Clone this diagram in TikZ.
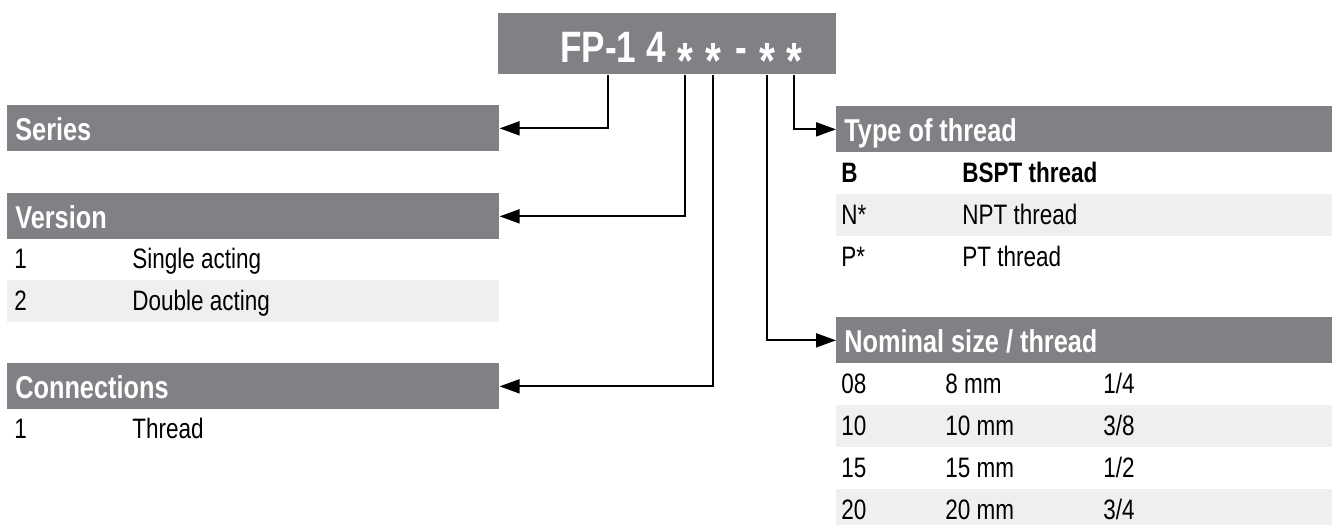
\documentclass[tikz,border=0pt]{standalone}
\usepackage{fontspec}
\setmainfont{Liberation Sans}[FakeStretch=0.8]
\usetikzlibrary{arrows.meta}
\definecolor{hdrgray}{HTML}{808184}
\definecolor{rowgray}{HTML}{EFEFEF}

\begin{document}
\begin{tikzpicture}[x=0.02cm, y=-0.02cm,
    hdr/.style={fill=hdrgray, text=white, font=\fontsize{18}{20}\selectfont\bfseries,
        anchor=north west, inner xsep=0.16cm, inner ysep=0pt, text height=0.7cm,
        text depth=0.22cm, minimum height=0.92cm, align=flush left, text width=#1},
    cell/.style={font=\fontsize{16}{18}\selectfont, inner sep=0pt, anchor=base west},
    codestar/.style={text=white, font=\fontsize{29}{30}\selectfont\bfseries, inner sep=0pt, anchor=base},
    conn/.style={line width=1.1pt, -{Triangle[length=0.4cm, width=0.28cm]}}]
    \useasboundingbox (0,0) rectangle (1338,525);

    \node[fill=hdrgray, anchor=north west, minimum width=6.76cm, minimum height=1.22cm, inner sep=0pt] (code) at (498,13) {};
    \node[text=white, font=\fontsize{25}{28}\selectfont\bfseries, inner sep=0pt, anchor=base west] (codetext) at (560,62) {FP-1 4};
    \node[codestar] (star1) at (685,78) {*};
    \node[codestar] (star2) at (713,78) {*};
    \node[text=white, font=\fontsize{25}{28}\selectfont\bfseries, inner sep=0pt, anchor=base] (dash) at (741,62) {-};
    \node[codestar] (star3) at (767,78) {*};
    \node[codestar] (star4) at (794,78) {*};

    \node[hdr=9.52cm] (series) at (7,105) {Series};
    \node[hdr=9.52cm] (version) at (7,193) {Version};
    \node[hdr=9.52cm] (connections) at (7,363) {Connections};
    \node[hdr=9.6cm] (thread) at (836,106) {Type of thread};
    \node[hdr=9.6cm] (size) at (836,317) {Nominal size / thread};

    \fill[rowgray] (7,280) rectangle (499,322);
    \node[cell] (v1) at (14,268) {1};
    \node[cell] (v1t) at (132,268) {Single acting};
    \node[cell] (v2) at (14,310) {2};
    \node[cell] (v2t) at (132,310) {Double acting};
    \node[cell] (c1) at (14,438) {1};
    \node[cell] (c1t) at (132,438) {Thread};

    \fill[rowgray] (836,194) rectangle (1332,236);
    \node[cell, font=\fontsize{16}{18}\selectfont\bfseries] (tb) at (841,182) {B};
    \node[cell, font=\fontsize{16}{18}\selectfont\bfseries] (tbt) at (962,182) {BSPT thread};
    \node[cell] (tn) at (841,224) {N*};
    \node[cell] (tnt) at (962,224) {NPT thread};
    \node[cell] (tp) at (841,266) {P*};
    \node[cell] (tpt) at (962,266) {PT thread};

    \fill[rowgray] (836,405) rectangle (1332,447);
    \fill[rowgray] (836,489) rectangle (1332,525);
    \node[cell] (s08) at (841,393) {08};
    \node[cell] (s08mm) at (945,393) {8 mm};
    \node[cell] (s08in) at (1103,393) {1/4};
    \node[cell] (s10) at (841,435) {10};
    \node[cell] (s10mm) at (945,435) {10 mm};
    \node[cell] (s10in) at (1103,435) {3/8};
    \node[cell] (s15) at (841,477) {15};
    \node[cell] (s15mm) at (945,477) {15 mm};
    \node[cell] (s15in) at (1103,477) {1/2};
    \node[cell] (s20) at (841,519) {20};
    \node[cell] (s20mm) at (945,519) {20 mm};
    \node[cell] (s20in) at (1103,519) {3/4};

    \coordinate (tap1) at (608,0);

    \draw[conn] (code.south -| tap1) |- (series.east);
    \draw[conn] (code.south -| star1) |- (version.east);
    \draw[conn] (code.south -| star2) |- (connections.east);
    \draw[conn] (code.south -| star3) |- (size.west);
    \draw[conn] (code.south -| star4) |- (thread.west);
\end{tikzpicture}
\end{document}
